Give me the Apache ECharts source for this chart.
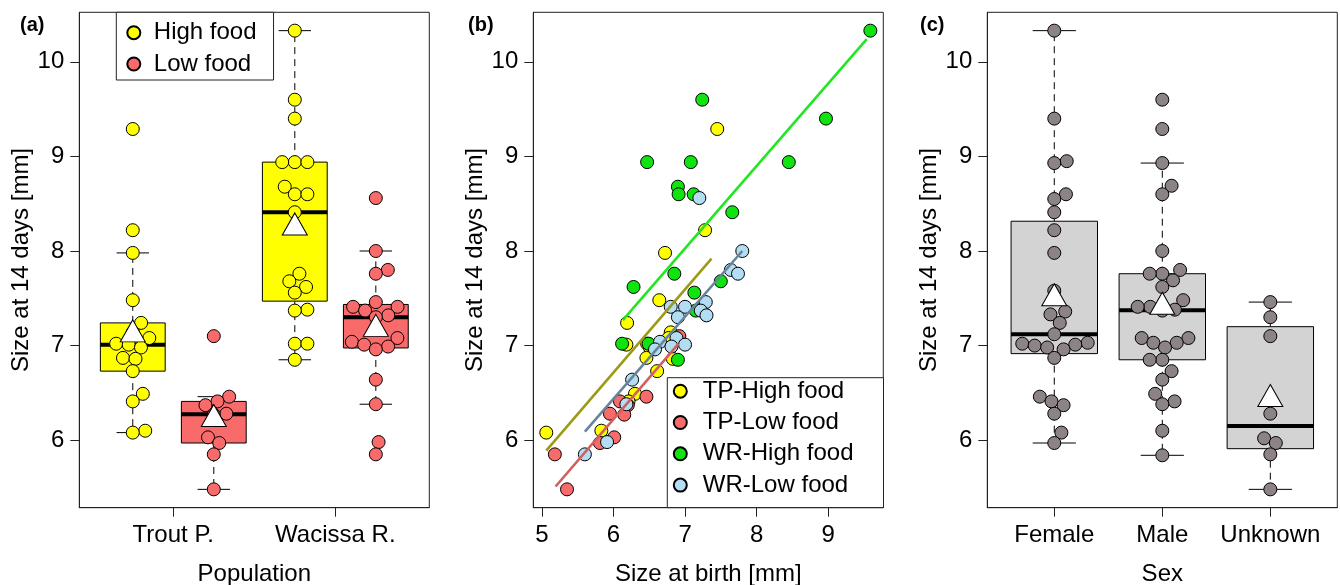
<!DOCTYPE html>
<html>
<head>
<meta charset="utf-8">
<script src="https://cdn.jsdelivr.net/npm/echarts@6.0.0/dist/echarts.min.js"></script>
<style>
  html, body { margin: 0; padding: 0; background: #fff; }
  #chart { width: 1340px; height: 585px; }
</style>
</head>
<body>
<div id="chart"></div>
<script>
// ---------------- data ----------------
// size at 14 days [mm] and size at birth [mm], by population x food level
const tpHighSize14 = [9.29, 8.22, 7.98, 7.48, 7.24, 7.14, 7.08, 7.02, 7.01, 6.98, 6.87, 6.86, 6.73, 6.49, 6.41, 6.10, 6.08];
const tpHighBirth  = [7.45, 7.28, 6.72, 6.64, 6.19, 6.80, 6.77, 6.47, 6.18, 6.51, 6.46, 6.83, 6.61, 6.30, 6.21, 5.83, 5.06];
const tpLowSize14  = [7.10, 6.46, 6.41, 6.37, 6.28, 6.27, 6.03, 5.97, 5.85, 5.48];
const tpLowBirth   = [6.92, 6.46, 6.09, 6.20, 5.95, 6.15, 6.01, 5.81, 5.18, 5.35];
const wrHighSize14 = [10.33, 9.60, 9.40, 8.94, 8.94, 8.94, 8.68, 8.60, 8.60, 8.41, 7.76, 7.68, 7.62, 7.56, 7.38, 7.37, 7.02, 7.02, 6.85];
const wrHighBirth  = [9.59, 7.24, 8.97, 6.47, 7.08, 8.45, 6.90, 6.91, 7.12, 7.66, 6.85, 7.50, 6.28, 7.13, 7.19, 7.15, 6.12, 6.49, 6.90];
const wrLowSize14  = [8.56, 8.00, 7.80, 7.76, 7.46, 7.41, 7.41, 7.37, 7.32, 7.30, 7.08, 7.04, 7.01, 6.99, 6.96, 6.64, 6.38, 5.98, 5.85];
const wrLowBirth   = [7.20, 7.80, 7.64, 7.74, 7.29, 6.80, 7.00, 7.22, 7.30, 6.90, 6.88, 6.65, 7.00, 6.81, 6.58, 6.26, 6.18, 5.91, 5.60];

// fitted regression segments in panel (b): [birth, size14] end points
const fitTPHigh = [[5.06, 5.89], [7.37, 7.92]];
const fitTPLow  = [[5.19, 5.51], [6.91, 7.02]];
const fitWRHigh = [[6.13, 7.27], [9.54, 10.24]];
const fitWRLow  = [[5.60, 6.09], [7.80, 8.00]];

// size at 14 days by sex (panel c)
const femaleSize14  = [10.33, 9.40, 8.95, 8.93, 8.60, 8.55, 8.41, 8.22, 7.98, 7.58, 7.36, 7.33, 7.24, 7.12, 7.03, 7.02, 7.01, 7.00, 6.98, 6.96, 6.87, 6.46, 6.41, 6.37, 6.28, 6.08, 5.97];
const maleSize14    = [9.60, 9.29, 8.93, 8.69, 8.60, 8.00, 7.80, 7.76, 7.76, 7.69, 7.62, 7.48, 7.41, 7.41, 7.38, 7.37, 7.08, 7.08, 7.03, 7.03, 6.98, 6.85, 6.85, 6.73, 6.64, 6.49, 6.41, 6.38, 6.10, 5.84];
const unknownSize14 = [7.46, 7.30, 7.10, 6.28, 6.02, 5.97, 5.85, 5.48];

// tick labels
const popLabels   = ['Trout P.', 'Wacissa R.'];
const sexLabels   = ['Female', 'Male', 'Unknown'];
const sizeTicks   = [6, 7, 8, 9, 10];
const birthTicks  = [5, 6, 7, 8, 9];
const foodNames   = ['High food', 'Low food'];
const groupNames  = ['TP-High food', 'TP-Low food', 'WR-High food', 'WR-Low food'];

// ---------------- styling / layout ----------------
const FONT = '"Liberation Sans", Arial, Helvetica, sans-serif';
const FS = 24;
const GRID_TOP = 12.3, GRID_H = 495.4, GRID_W = 350;
const GRID_LEFTS = [79.3, 533.3, 987.3];
const COL = {
  yellow: '#FFFF00', salmon: '#F96B6B', green: '#11E311', lblue: '#B3DDF3',
  grey: '#8B8386', boxGrey: '#D3D3D3',
  lineTP_H: '#9C9A16', lineTP_L: '#D35E5E', lineWR_H: '#22E622', lineWR_L: '#67849A'
};

// ---------------- helpers ----------------
function ext(a, b) { const r = b - a; return [a - 0.04 * r, b + 0.04 * r]; }
const allSize = [].concat(tpHighSize14, tpLowSize14, wrHighSize14, wrLowSize14);
const [yMin, yMax] = ext(Math.min(...allSize), Math.max(...allSize));
const allBirth = [].concat(tpHighBirth, tpLowBirth, wrHighBirth, wrLowBirth);
const [bMin, bMax] = ext(Math.min(...allBirth), Math.max(...allBirth));
const aMin = 0.5 - 0.04 * 4, aMax = 4.5 + 0.04 * 4;
const cMin = 0.5 - 0.04 * 3, cMax = 3.5 + 0.04 * 3;

function fivenum(x) {
  const s = [...x].sort((a, b) => a - b), n = s.length;
  const n4 = Math.floor((n + 3) / 2) / 2;
  return [1, n4, (n + 1) / 2, n + 1 - n4, n].map(v => 0.5 * (s[Math.floor(v) - 1] + s[Math.ceil(v) - 1]));
}
function boxStats(x, pos, fill) {
  const f = fivenum(x), iqr = f[3] - f[1];
  const lo = Math.min(...x.filter(v => v >= f[1] - 1.5 * iqr));
  const hi = Math.max(...x.filter(v => v <= f[3] + 1.5 * iqr));
  return { value: [pos, lo, f[1], f[2], f[3], hi], fill: fill };
}
function mean(x) { return x.reduce((a, b) => a + b, 0) / x.length; }

// beeswarm ("swarm" method): offsets in pixels
const DOT = 12.6;
function swarm(vals, pxPerY) {
  const order = vals.map((v, i) => i).sort((a, b) => vals[a] - vals[b]);
  const placed = [], out = new Array(vals.length);
  for (const i of order) {
    const y = vals[i] * pxPerY;
    const cands = [0];
    for (const p of placed) {
      const dy = Math.abs(p.y - y);
      if (dy < DOT) { const dx = Math.sqrt(DOT * DOT - dy * dy); cands.push(p.x + dx, p.x - dx); }
    }
    const ok = cands.filter(x => placed.every(p => (p.x - x) ** 2 + (p.y - y) ** 2 >= DOT * DOT - 1e-6));
    ok.sort((a, b) => Math.abs(a) - Math.abs(b) || b - a);
    out[i] = ok[0];
    placed.push({ x: ok[0], y: y });
  }
  return out;
}
const pxPerY = GRID_H / (yMax - yMin);
function swarmData(vals, pos, xmin, xmax) {
  const pxPerX = GRID_W / (xmax - xmin);
  const off = swarm(vals, pxPerY);
  return vals.map((v, i) => [pos + off[i] / pxPerX, v]);
}
function zip(xs, ys) { return xs.map((x, i) => [x, ys[i]]); }

// ---------------- series ----------------
const pointStyle = c => ({ color: c, borderColor: '#000', borderWidth: 1, opacity: 1 });

function boxSeries(xi, items) {
  return {
    type: 'custom', xAxisIndex: xi, yAxisIndex: xi, z: 2,
    data: items.map(d => ({ value: d.value, fill: d.fill })),
    encode: { x: 0, y: [1, 2, 3, 4, 5] },
    renderItem: function (params, api) {
      const x = api.value(0);
      const pLo = api.coord([x, api.value(1)]), pQ1 = api.coord([x, api.value(2)]);
      const pMd = api.coord([x, api.value(3)]), pQ3 = api.coord([x, api.value(4)]);
      const pHi = api.coord([x, api.value(5)]);
      const half = api.size([0.4, 0])[0], st = half / 2, c = pMd[0];
      const fill = items[params.dataIndex].fill;
      const line = (x1, y1, x2, y2, w, dash) => ({
        type: 'line', shape: { x1, y1, x2, y2 },
        style: { stroke: '#000', lineWidth: w, lineDash: dash || null }
      });
      return {
        type: 'group', children: [
          line(c, pQ3[1], c, pHi[1], 1, [7, 5]),
          line(c, pQ1[1], c, pLo[1], 1, [7, 5]),
          line(c - st, pHi[1], c + st, pHi[1], 1),
          line(c - st, pLo[1], c + st, pLo[1], 1),
          { type: 'rect', shape: { x: c - half, y: pQ3[1], width: 2 * half, height: pQ1[1] - pQ3[1] },
            style: { fill: fill, stroke: '#000', lineWidth: 1 } },
          line(c - half, pMd[1], c + half, pMd[1], 4)
        ]
      };
    }
  };
}
const triStyle = { color: '#fff', borderColor: '#000', borderWidth: 1, opacity: 1 };
function meanSeries(xi, pts) {
  return {
    type: 'scatter', xAxisIndex: xi, yAxisIndex: xi, z: 5, silent: true,
    symbol: 'triangle', symbolSize: [25, 22], symbolOffset: [0, -3.7],
    itemStyle: triStyle, data: pts
  };
}

const series = [
  // ---- panel (a)
  boxSeries(0, [
    boxStats(tpHighSize14, 1, COL.yellow), boxStats(tpLowSize14, 2, COL.salmon),
    boxStats(wrHighSize14, 3, COL.yellow), boxStats(wrLowSize14, 4, COL.salmon)
  ]),
  { name: foodNames[0], type: 'scatter', xAxisIndex: 0, yAxisIndex: 0, z: 3, symbolSize: 13,
    itemStyle: pointStyle(COL.yellow),
    data: swarmData(tpHighSize14, 1, aMin, aMax).concat(swarmData(wrHighSize14, 3, aMin, aMax)) },
  { name: foodNames[1], type: 'scatter', xAxisIndex: 0, yAxisIndex: 0, z: 3, symbolSize: 13,
    itemStyle: pointStyle(COL.salmon),
    data: swarmData(tpLowSize14, 2, aMin, aMax).concat(swarmData(wrLowSize14, 4, aMin, aMax)) },
  meanSeries(0, [[1, mean(tpHighSize14)], [2, mean(tpLowSize14)], [3, mean(wrHighSize14)], [4, mean(wrLowSize14)]]),

  // ---- panel (b)
  { name: groupNames[0], type: 'scatter', xAxisIndex: 1, yAxisIndex: 1, z: 3, symbolSize: 13,
    itemStyle: pointStyle(COL.yellow), data: zip(tpHighBirth, tpHighSize14) },
  { name: groupNames[1], type: 'scatter', xAxisIndex: 1, yAxisIndex: 1, z: 3, symbolSize: 13,
    itemStyle: pointStyle(COL.salmon), data: zip(tpLowBirth, tpLowSize14) },
  { name: groupNames[2], type: 'scatter', xAxisIndex: 1, yAxisIndex: 1, z: 3, symbolSize: 13,
    itemStyle: pointStyle(COL.green), data: zip(wrHighBirth, wrHighSize14) },
  { name: groupNames[3], type: 'scatter', xAxisIndex: 1, yAxisIndex: 1, z: 3, symbolSize: 13,
    itemStyle: pointStyle(COL.lblue), data: zip(wrLowBirth, wrLowSize14) },
  ...[[fitTPHigh, COL.lineTP_H], [fitTPLow, COL.lineTP_L], [fitWRHigh, COL.lineWR_H], [fitWRLow, COL.lineWR_L]]
    .map(([d, c]) => ({ type: 'line', xAxisIndex: 1, yAxisIndex: 1, z: 4, silent: true, showSymbol: false,
      symbol: 'none', lineStyle: { color: c, width: 2.6 }, data: d })),

  // ---- panel (c)
  boxSeries(2, [
    boxStats(femaleSize14, 1, COL.boxGrey), boxStats(maleSize14, 2, COL.boxGrey), boxStats(unknownSize14, 3, COL.boxGrey)
  ]),
  { type: 'scatter', xAxisIndex: 2, yAxisIndex: 2, z: 3, symbolSize: 13, itemStyle: pointStyle(COL.grey),
    data: swarmData(femaleSize14, 1, cMin, cMax).concat(swarmData(maleSize14, 2, cMin, cMax), swarmData(unknownSize14, 3, cMin, cMax)) },
  meanSeries(2, [[1, mean(femaleSize14)], [2, mean(maleSize14)], [3, mean(unknownSize14)]])
];

// ---------------- axes ----------------
const txt = { color: '#000', fontFamily: FONT, fontSize: FS };
function yAxis(gi) {
  return {
    type: 'value', gridIndex: gi, min: yMin, max: yMax,
    name: 'Size at 14 days [mm]', nameLocation: 'middle', nameGap: 46, nameRotate: 90, nameTextStyle: txt,
    axisLine: { show: true, lineStyle: { color: '#222' } },
    axisTick: { show: true, length: 9, customValues: sizeTicks, lineStyle: { color: '#222' } },
    axisLabel: Object.assign({ customValues: sizeTicks, margin: 15 }, txt),
    splitLine: { show: false }
  };
}
function xAxis(gi, min, max, name, ticks, labels) {
  return {
    type: 'value', gridIndex: gi, min: min, max: max,
    name: name, nameLocation: 'middle', nameGap: 55, nameTextStyle: txt,
    axisLine: { show: true, onZero: false, lineStyle: { color: '#222' } },
    axisTick: { show: true, length: 9, customValues: ticks, lineStyle: { color: '#222' } },
    axisLabel: Object.assign({ customValues: ticks, margin: 16,
      formatter: v => labels ? labels[ticks.indexOf(v)] : String(v) }, txt),
    splitLine: { show: false }
  };
}

const legendBase = {
  orient: 'vertical', selectedMode: false, backgroundColor: '#fff',
  borderColor: '#222', borderWidth: 1, borderRadius: 0,
  itemWidth: 13, itemHeight: 13, itemGap: 5.3,
  textStyle: { color: '#000', fontFamily: FONT, fontSize: FS, lineHeight: 26 }
};

const option = {
  animation: false,
  backgroundColor: '#fff',
  title: ['(a)', '(b)', '(c)'].map((t, i) => ({
    text: t, left: [20, 468, 920][i], top: 15, padding: 0,
    textStyle: { fontFamily: FONT, fontSize: 20, fontWeight: 'bold', color: '#000' }
  })),
  grid: GRID_LEFTS.map(l => ({ left: l, top: GRID_TOP, width: GRID_W, height: GRID_H,
    show: true, borderColor: '#222', borderWidth: 1, backgroundColor: 'transparent',
    containLabel: false, outerBoundsMode: 'none' })),
  xAxis: [
    xAxis(0, aMin, aMax, 'Population', [1.5, 3.5], popLabels),
    xAxis(1, bMin, bMax, 'Size at birth [mm]', birthTicks, null),
    xAxis(2, cMin, cMax, 'Sex', [1, 2, 3], sexLabels)
  ],
  yAxis: [yAxis(0), yAxis(1), yAxis(2)],
  legend: [
    Object.assign({}, legendBase, { data: foodNames, left: 116.3, top: 12.3, padding: [7.4, 17, 3, 10],
      textStyle: Object.assign({}, legendBase.textStyle, { padding: [0, 0, 0, 8.5] }) }),
    Object.assign({}, legendBase, { data: groupNames, left: 667.3, top: 377.7, padding: [0.5, 30, 9.5, 5.5],
      textStyle: Object.assign({}, legendBase.textStyle, { padding: [0, 0, 0, 11] }) })
  ],
  series: series
};

const chart = echarts.init(document.getElementById('chart'), null, { renderer: 'canvas' });
chart.setOption(option);
</script>
</body>
</html>
